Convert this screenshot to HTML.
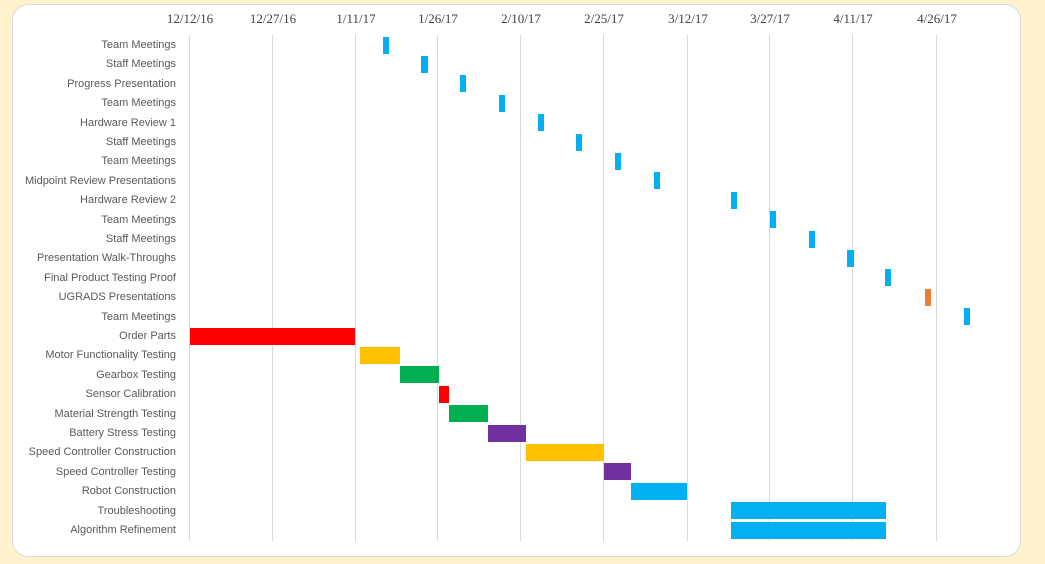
<!DOCTYPE html><html><head><style>
body{margin:0;width:1045px;height:564px;background:#fff2cc;position:relative;overflow:hidden;font-family:"Liberation Sans",sans-serif}
#p{position:absolute;left:12px;top:4px;width:1007px;height:551px;background:#fff;border:1px solid #d9d9d9;border-radius:16px}
.g{position:absolute;top:35px;height:506px;width:1px;background:#d9d9d9}
.t{position:absolute;top:11px;width:100px;margin-left:-50px;text-align:center;font-family:"Liberation Serif",serif;font-size:13px;color:#404040}
.l{position:absolute;right:869px;font-size:11px;color:#595959;white-space:nowrap;line-height:14px}
.b{position:absolute;height:17px}
</style></head><body><div id="p"></div>
<div id="c"></div>
<script>
var ticks=[[189,"12/12/16"],[272,"12/27/16"],[355,"1/11/17"],[437,"1/26/17"],[520,"2/10/17"],[603,"2/25/17"],[687,"3/12/17"],[769,"3/27/17"],[852,"4/11/17"],[936,"4/26/17"]];
var B="#00b0f0",R="#ff0000",Y="#ffc000",G="#00b050",P="#7030a0",O="#ed7d31";
var rows=[["Team Meetings",383,389,B],["Staff Meetings",421,428,B],["Progress Presentation ",460,466,B],["Team Meetings",499,505,B],["Hardware Review 1",538,544,B],["Staff Meetings",576,582,B],["Team Meetings",615,621,B],["Midpoint Review Presentations ",654,660,B],["Hardware Review 2",731,737,B],["Team Meetings",770,776,B],["Staff Meetings",809,815,B],["Presentation Walk-Throughs",847,854,B],["Final Product Testing Proof",885,891,B],["UGRADS Presentations",925,931,O],["Team Meetings",964,970,B],["Order Parts",190,355,R],["Motor Functionality Testing",360,400,Y],["Gearbox Testing",400,439,G],["Sensor Calibration",439,449,R],["Material Strength Testing",449,488,G],["Battery Stress Testing",488,526,P],["Speed Controller Construction",526,604,Y],["Speed Controller Testing",604,631,P],["Robot Construction",631,687,B],["Troubleshooting",731,886,B],["Algorithm Refinement",731,886,B]];
var h="";
ticks.forEach(function(t){h+='<div class="g" style="left:'+t[0]+'px"></div><div class="t" style="left:'+(t[0]+1)+'px">'+t[1]+'</div>';});
rows.forEach(function(r,i){var c=45+19.4*i;h+='<div class="l" style="top:'+(c-7)+'px">'+r[0]+'</div><div class="b" style="left:'+r[1]+'px;width:'+(r[2]-r[1])+'px;top:'+(c-8.5)+'px;background:'+r[3]+'"></div>';});
document.getElementById("c").innerHTML=h;
</script></body></html>
